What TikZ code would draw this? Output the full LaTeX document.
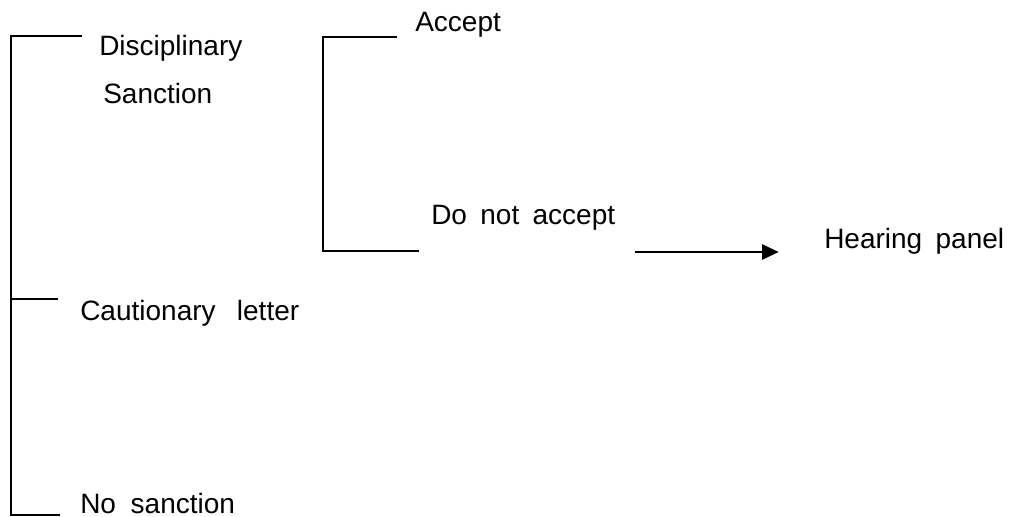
\documentclass[tikz,border=0pt]{standalone}
\usepackage{fontspec}
\setmainfont{Liberation Sans}
\usetikzlibrary{arrows.meta}
\newcommand{\wgap}[1]{\hspace*{#1}}
\begin{document}
\begin{tikzpicture}[x=0.75pt,y=-0.75pt,
  lbl/.style={anchor=base west,inner sep=0pt,font=\fontsize{21}{25}\selectfont},
  wire/.style={line width=1.4pt},
  arrowline/.style={line width=1.4pt,-{Triangle[length=12.5pt,width=11.5pt]}}]
\useasboundingbox (0,0) rectangle (1015,517);

% labels
\node[lbl] (disc)  at (99,56)   {Disciplinary};
\node[lbl] (sanc)  at (103,104) {Sanction};
\node[lbl] (acc)   at (415,32)  {Accept};
\node[lbl] (dna)   at (431,224) {Do\wgap{10pt}not\wgap{10pt}accept};
\node[lbl] (hear)  at (824,248) {Hearing\wgap{10pt}panel};
\node[lbl] (caut)  at (80,320)  {Cautionary\wgap{16pt}letter};
\node[lbl] (nos)   at (80,513)  {No\wgap{11pt}sanction};

% bracket corners and line ends
\coordinate (l1) at (11,36);
\coordinate (l1e) at (82,36);
\coordinate (l2) at (11,299);
\coordinate (l2e) at (58,299);
\coordinate (l3) at (11,515);
\coordinate (l3e) at (60,515);
\coordinate (r1) at (323,37);
\coordinate (r1e) at (397,37);
\coordinate (r2) at (323,251);
\coordinate (r2e) at (419,251);
\coordinate (as) at (635,252);

% main bracket
\draw[wire] (l1e) -- (l1) -- (l3) -- (l3e);
\draw[wire] (l2) -- (l2e);
% sanction bracket
\draw[wire] (r1e) -- (r1) -- (r2) -- (r2e);
% escalation arrow
\draw[arrowline,shorten >=34pt] (as) -- (as -| hear.west);
\end{tikzpicture}
\end{document}
